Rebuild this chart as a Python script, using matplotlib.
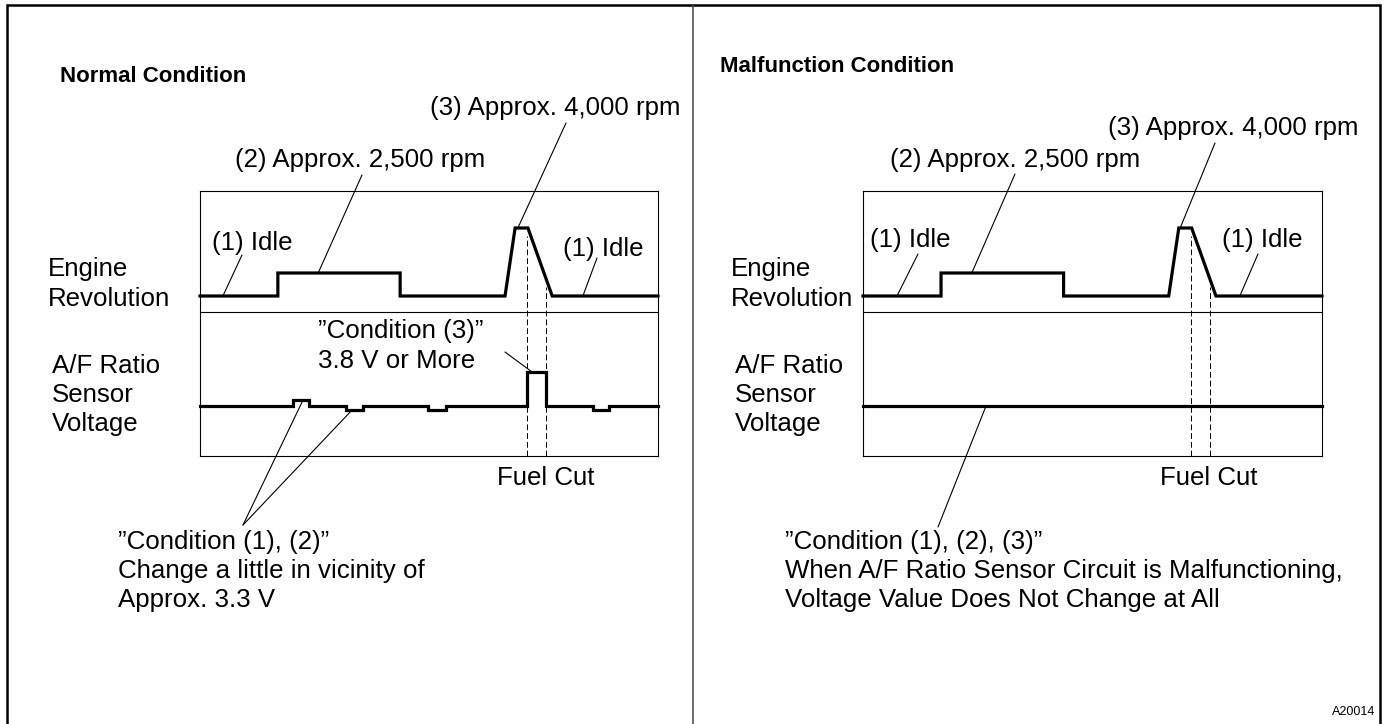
import numpy as np
import matplotlib
matplotlib.use("Agg")
import matplotlib.pyplot as plt

plt.rcParams['font.family'] = ['Liberation Sans', 'DejaVu Sans']

# ---------------- data (time axis 0..100 across each chart box) ----------------
engine_t = [0, 17.0, 17.0, 43.7, 43.7, 66.6, 68.8, 71.6, 76.9, 100]
engine_v = [160, 160, 183, 183, 160, 160, 228, 228, 160, 160]

af_normal_t = [0, 20.3, 20.3, 23.8, 23.8, 31.9, 31.9, 35.6, 35.6, 49.8, 49.8, 53.7, 53.7,
               71.4, 71.4, 75.5, 75.5, 85.8, 85.8, 89.3, 89.3, 100]
af_normal_v = [50, 50, 56, 56, 50, 50, 46, 46, 50, 50, 46, 46, 50,
               50, 84, 84, 50, 50, 46, 46, 50, 50]

af_malf_t = [0, 100]
af_malf_v = [50, 50]

fuel_cut_t = [71.5, 75.6]
divider_v = 144

titles = ["Normal Condition", "Malfunction Condition"]
lbl_idle = "(1) Idle"
lbl_2500 = "(2) Approx. 2,500 rpm"
lbl_4000 = "(3) Approx. 4,000 rpm"
lbl_engine = "Engine\nRevolution"
lbl_af = "A/F Ratio\nSensor\nVoltage"
lbl_fuel = "Fuel Cut"
lbl_cond3 = "\u201dCondition (3)\u201d\n3.8 V or More"
lbl_cond12 = "\u201dCondition (1), (2)\u201d\nChange a little in vicinity of\nApprox. 3.3 V"
lbl_cond123 = ("\u201dCondition (1), (2), (3)\u201d\nWhen A/F Ratio Sensor Circuit is Malfunctioning,\n"
               "Voltage Value Does Not Change at All")
code = "A20014"

# ---------------- figure ----------------
W, H = 1386, 724
fig = plt.figure(figsize=(W / 100, H / 100), dpi=100)
main = fig.add_axes([0, 0, 1, 1])
main.set_xlim(0, W)
main.set_ylim(H, 0)
main.axis('off')

FS = 18.6
LS = 1.27
LW_THIN = 0.8

# outer frame
main.plot([7, 7, 1380, 1380], [H + 5, 5, 5, H + 5], color='black', lw=1.8, solid_joinstyle='miter')
main.plot([693, 693], [5, H + 5], color='#444444', lw=1.1)

def box_axes(x0, y0, x1, y1):
    ax = fig.add_axes([x0 / W, 1 - y1 / H, (x1 - x0) / W, (y1 - y0) / H])
    ax.set_xlim(0, 100)
    ax.set_ylim(0, y1 - y0)
    ax.set_xticks([])
    ax.set_yticks([])
    for s in ax.spines.values():
        s.set_linewidth(0.8)
    ax.patch.set_alpha(0)
    return ax

axL = box_axes(200, 191, 658, 456)
axR = box_axes(863, 191, 1322, 456)

for ax, af_t, af_v in [(axL, af_normal_t, af_normal_v), (axR, af_malf_t, af_malf_v)]:
    ax.axhline(divider_v, color='black', lw=0.8)
    ax.plot(engine_t, engine_v, color='black', lw=2.3, solid_joinstyle='miter', clip_on=False)
    ax.plot(af_t, af_v, color='black', lw=2.3, solid_joinstyle='miter', clip_on=False)
    for t in fuel_cut_t:
        top = np.interp(t, engine_t, engine_v)
        ax.plot([t, t], [0, top - 8], color='black', lw=0.7, dashes=(6, 3))

def leader(ax, t, v, px, py):
    main.annotate('', xy=(t, v), xycoords=ax.transData, xytext=(px, py), textcoords='data',
                  arrowprops=dict(arrowstyle='-', lw=LW_THIN, shrinkA=0, shrinkB=0, color='black'))

def txt(x, y, s, **kw):
    kw.setdefault('fontsize', FS)
    kw.setdefault('va', 'center')
    kw.setdefault('ha', 'left')
    kw.setdefault('linespacing', LS)
    main.text(x, y, s, color='black', **kw)

# titles
txt(60, 76, titles[0], fontsize=16, fontweight='bold')
txt(720, 67, titles[1], fontsize=16, fontweight='bold')

# ---- left panel annotations ----
txt(48, 284, lbl_engine)
txt(52, 395, lbl_af)
txt(212, 243, lbl_idle)
leader(axL, 5.0, engine_v[0], 242, 255)
txt(235, 160, lbl_2500)
leader(axL, 25.8, engine_v[2], 362, 175)
txt(680, 108, lbl_4000, ha='right')
leader(axL, 69.4, engine_v[6], 566, 123)
txt(563, 249, lbl_idle)
leader(axL, 83.6, engine_v[-1], 597, 258)
txt(318, 346, lbl_cond3)
leader(axL, 72.5, af_normal_v[14], 505, 352)
txt(497, 478, lbl_fuel)
txt(118, 571, lbl_cond12)
leader(axL, 22.5, af_normal_v[2], 243, 525)
leader(axL, 33.2, af_normal_v[6], 243, 525)

# ---- right panel annotations ----
txt(731, 284, lbl_engine)
txt(735, 395, lbl_af)
txt(870, 240, lbl_idle)
leader(axR, 7.4, engine_v[0], 918, 254)
txt(890, 160, lbl_2500)
leader(axR, 23.7, engine_v[2], 1015, 174)
txt(1358, 128, lbl_4000, ha='right')
leader(axR, 69.1, engine_v[6], 1215, 143)
txt(1222, 240, lbl_idle)
leader(axR, 82.1, engine_v[-1], 1258, 254)
txt(1160, 478, lbl_fuel)
txt(785, 571, lbl_cond123)
leader(axR, 26.8, af_malf_v[0], 938, 527)

txt(1375, 712, code, fontsize=9, ha='right')

fig.savefig("out.png", dpi=100)
